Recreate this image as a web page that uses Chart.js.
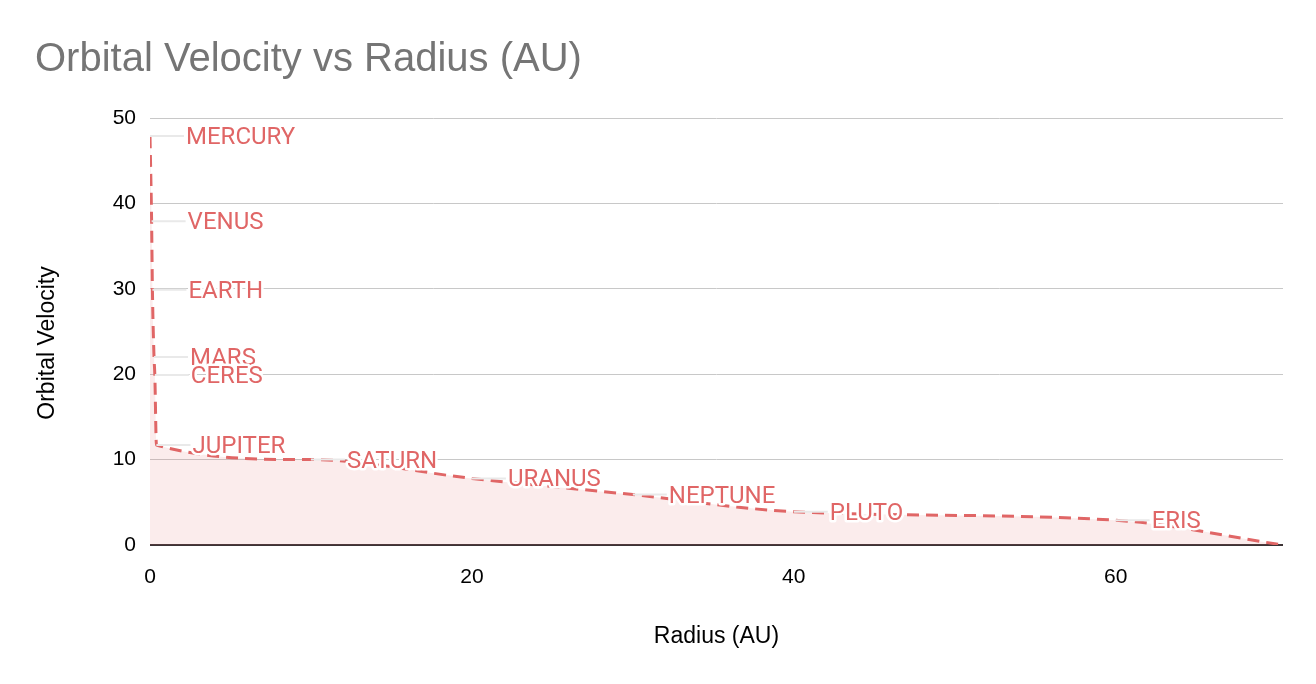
<!DOCTYPE html>
<html lang="en">
  <head>
    <meta charset="UTF-8" />
    <title>Orbital Velocity vs Radius (AU)</title>
    <script src="https://cdn.jsdelivr.net/npm/chart.js"></script>
    <style>
      body { margin: 0; background: #fff; }
      canvas { display: block; }
    </style>
  </head>
  <body>
    <canvas id="myChart" width="1316" height="684"></canvas>
    <script>
      // Chart data
      const bodies = ["MERCURY", "VENUS", "EARTH", "MARS", "CERES", "JUPITER", "SATURN", "URANUS", "NEPTUNE", "PLUTO", "ERIS", ""];
      const radius = [0, 0.1, 0.15, 0.25, 0.3, 0.4, 10, 20, 30, 40, 60, 70.4];
      const velocity = [47.9, 37.9, 29.9, 22.0, 19.9, 11.7, 10.0, 7.8, 5.9, 3.9, 2.9, 0];
      const xTicks = [0, 20, 40, 60];
      const yTicks = [0, 10, 20, 30, 40, 50];

      const RED = "#e06666";

      // Chart title and the y axis title, drawn by hand to sit where the original ones do
      const titlePlugin = {
        id: "sheetTitle",
        afterDraw(chart) {
          const c = chart.ctx;
          c.save();
          c.font = "40px 'Liberation Sans', Arial, sans-serif";
          c.fillStyle = "#757575";
          c.textBaseline = "middle";
          c.fillText("Orbital Velocity vs Radius (AU)", 35, 60);

          c.translate(48, 343);
          c.rotate(-Math.PI / 2);
          c.font = "23px 'Liberation Sans', Arial, sans-serif";
          c.fillStyle = "#000";
          c.textAlign = "center";
          c.fillText("Orbital Velocity", 0, 0);
          c.restore();
        },
      };

      // Point labels with a white halo and a grey leader line
      const labelPlugin = {
        id: "pointLabels",
        afterDatasetsDraw(chart) {
          const c = chart.ctx;
          const meta = chart.getDatasetMeta(0);
          c.save();
          c.font = "24px Roboto, sans-serif";
          c.textBaseline = "middle";
          meta.data.forEach((pt, i) => {
            const name = bodies[i];
            if (!name) return;
            const lx = pt.x + 36;
            const ly = pt.y + 2;
            c.strokeStyle = "#e9e9e9";
            c.lineWidth = 2;
            c.beginPath();
            c.moveTo(pt.x, pt.y);
            c.lineTo(lx - 2, pt.y);
            c.stroke();
            c.lineJoin = "round";
            c.strokeStyle = "#fff";
            c.lineWidth = 5;
            c.strokeText(name, lx, ly);
            c.fillStyle = RED;
            c.fillText(name, lx, ly);
          });
          c.restore();
        },
      };

      const ctx = document.getElementById("myChart").getContext("2d");
      const myChart = new Chart(ctx, {
        type: "line",
        data: {
          datasets: [
            {
              label: "Orbital Velocity",
              data: radius.map((r, i) => ({ x: r, y: velocity[i] })),
              borderColor: RED,
              backgroundColor: "rgba(224, 102, 102, 0.125)",
              borderWidth: 3,
              borderDash: [12, 7],
              fill: "origin",
              pointRadius: 0,
              cubicInterpolationMode: "monotone",
            },
          ],
        },
        options: {
          responsive: false,
          animation: false,
          layout: { padding: { top: 118, right: 33, left: 0, bottom: 0 } },
          plugins: {
            legend: { display: false },
            tooltip: { enabled: false },
          },
          scales: {
            x: {
              type: "linear",
              min: 0,
              max: 70.4,
              afterBuildTicks: (axis) => {
                axis.ticks = xTicks.map((v) => ({ value: v }));
              },
              afterFit: (scale) => {
                scale.height = 139;
              },
              grid: { display: false, drawTicks: false },
              border: { display: false },
              ticks: {
                color: "#000",
                padding: 20,
                maxRotation: 0,
                font: { family: "'Liberation Sans', Arial", size: 21 },
              },
              title: {
                display: true,
                text: "Radius (AU)",
                color: "#000",
                padding: { bottom: 34 },
                font: { family: "'Liberation Sans', Arial", size: 23 },
              },
            },
            y: {
              min: 0,
              max: 50,
              afterBuildTicks: (axis) => {
                axis.ticks = yTicks.map((v) => ({ value: v }));
              },
              afterFit: (scale) => {
                scale.width = 150;
              },
              grid: {
                drawTicks: false,
                color: (c) => (c.tick && c.tick.value === 0 ? "#3b3335" : "#c8c8c8"),
                lineWidth: (c) => (c.tick && c.tick.value === 0 ? 2 : 1),
              },
              border: { display: false },
              ticks: {
                color: "#000",
                padding: 14,
                font: { family: "'Liberation Sans', Arial", size: 21 },
              },
            },
          },
        },
        plugins: [titlePlugin, labelPlugin],
      });
    </script>
  </body>
</html>
